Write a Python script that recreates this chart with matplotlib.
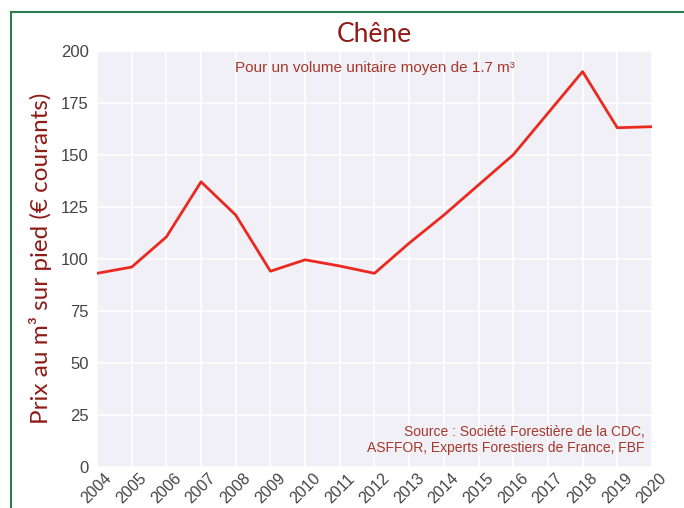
import matplotlib
matplotlib.use('Agg')
from matplotlib import pyplot as plt
from matplotlib.lines import Line2D

years = list(range(2004, 2021))
prix = [93, 96, 110.5, 137, 121, 94, 99.5, 96.5, 93, 107.5, 121, 135.5, 150, 170, 190, 163, 163.5]
y_ticks = [0, 25, 50, 75, 100, 125, 150, 175, 200]

DARK_RED = '#8e1b16'
TEXT_RED = '#a5372b'

fig = plt.figure(figsize=(6.84, 5.08), dpi=100)
ax = fig.add_axes([0.1418, 0.0813, 0.8114, 0.8187])
ax.set_facecolor('#f1f0f7')

ax.plot(years, prix, color='#ea2a20', linewidth=2)

ax.set_xlim(2004, 2020)
ax.set_ylim(0, 200)
ax.set_xticks(years)
ax.set_yticks(y_ticks)
ax.grid(True, color='white', linewidth=1.2)
ax.set_axisbelow(True)
for s in ax.spines.values():
    s.set_visible(False)
ax.tick_params(length=0, colors='#444444', labelsize=12)
ax.tick_params(axis='x', pad=3, labelsize=11.5)
ax.tick_params(axis='y', pad=6)
for lbl in ax.get_xticklabels():
    lbl.set_rotation(45)
    lbl.set_ha('center')
for lbl in ax.get_xticklabels() + ax.get_yticklabels():
    lbl.set_family('Liberation Sans')

ax.set_title('Chêne', fontsize=19, color=DARK_RED, family='Lato', pad=6)
ax.set_ylabel('Prix au m³ sur pied (€ courants)', fontsize=17.5, color=DARK_RED,
              family='Lato', labelpad=6)

ax.text(0.5, 0.975, 'Pour un volume unitaire moyen de 1.7 m³', transform=ax.transAxes,
        ha='center', va='top', fontsize=11, color=TEXT_RED, family='Liberation Sans')
ax.text(0.987, 0.028, 'Source : Société Forestière de la CDC,\nASFFOR, Experts Forestiers de France, FBF',
        transform=ax.transAxes, ha='right', va='bottom', fontsize=10, color=TEXT_RED,
        family='Liberation Sans', linespacing=1.15)

# green frame at the top and left edges
fig.add_artist(Line2D([11 / 684, 1], [1 - 12 / 508, 1 - 12 / 508], transform=fig.transFigure,
                      color='#2e7d52', linewidth=1.5))
fig.add_artist(Line2D([11 / 684, 11 / 684], [0, 1 - 12 / 508], transform=fig.transFigure,
                      color='#2e7d52', linewidth=1.5))

fig.savefig('out.png', dpi=100)
